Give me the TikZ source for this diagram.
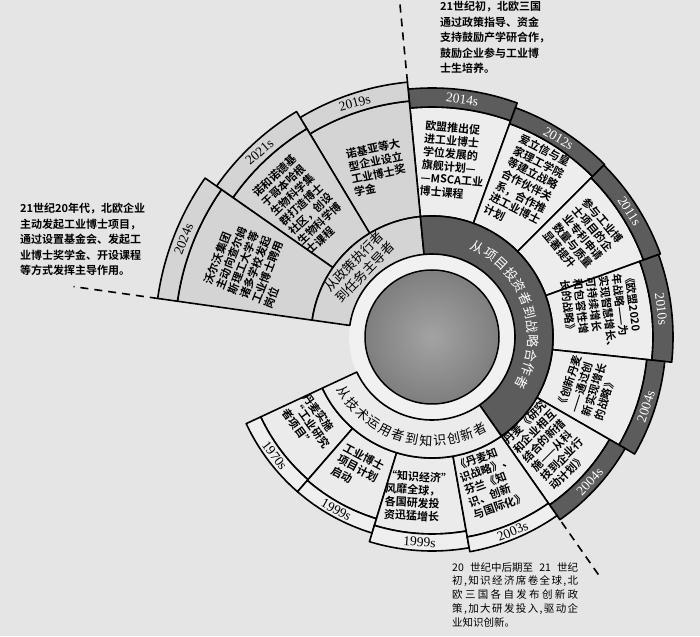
\documentclass[tikz,border=0pt]{standalone}
\usepackage{fontspec}
\setmainfont{Liberation Serif}
\newfontfamily\cjk{Noto Sans CJK SC}[BoldFont={Noto Sans CJK SC Bold}]
\definecolor{bgc}{HTML}{E5E5E5}
\definecolor{colL}{HTML}{D4D4D4}
\definecolor{colR}{HTML}{EDEDED}
\definecolor{colB}{HTML}{EBEBEB}
\definecolor{colBb}{HTML}{EFEFEF}
\definecolor{dark}{HTML}{5C5C5C}
\definecolor{ringw}{HTML}{F1F1F1}
\def\spr#1{\hbox to 126pt{\spa#1\relax}}
\def\spa#1#2{#1\ifx\relax#2\else\hfil\expandafter\spa\expandafter#2\fi}
\tikzset{
  secline/.style={draw=black, line width=1.6pt, line join=round},
  st/.style={font=\cjk\bfseries\fontsize{11}{13}\selectfont, align=left, inner sep=0pt},
  yr/.style={font=\fontsize{13.5}{13.5}\selectfont, inner sep=0pt},
  yrw/.style={yr, text=white},
  side/.style={font=\cjk\bfseries\fontsize{11}{15.5}\selectfont, align=left, inner sep=0pt, anchor=north west},
  sideb/.style={font=\cjk\fontsize{10.5}{13.8}\selectfont, align=left, inner sep=0pt, anchor=north west},
  midl/.style={font=\cjk\fontsize{13}{15.5}\selectfont, align=left, inner sep=0pt},
  arcw/.style={font=\cjk\fontsize{13}{13}\selectfont, inner sep=0pt, text=white},
  arcb/.style={font=\cjk\fontsize{13}{13}\selectfont, inner sep=0pt},
  dashln/.style={draw=black, line width=1.6pt, dash pattern=on 8pt off 6pt}
}
\begin{document}
\begin{tikzpicture}[x=1pt,y=1pt]
\useasboundingbox (-432,-299) rectangle (268,337);
\fill[bgc] (-432,-299) rectangle (268,337);
% white ring
\fill[ringw] (0,0) circle[radius=83];
% right group
\foreach \a/\b/\rb/\ro in {70/95.5/230/249, 45/70/227/244, 20/45/225/243, -6/20/221/241, -30/-6/216/234, -55/-30/205/223}{
  \draw[secline, fill=colR] (\a:121) arc[start angle=\a, end angle=\b, radius=121] -- (\b:\rb) arc[start angle=\b, end angle=\a, radius=\rb] -- cycle;
  \draw[secline, fill=dark] (\a:\rb) arc[start angle=\a, end angle=\b, radius=\rb] -- (\b:\ro) arc[start angle=\b, end angle=\a, radius=\ro] -- cycle;
}
% left group
\foreach \a/\b/\rb/\ro in {95.5/121/237/256, 121/145/243/263, 145/172/257/277}{
  \draw[secline, fill=colL] (\a:121) arc[start angle=\a, end angle=\b, radius=121] -- (\b:\rb) arc[start angle=\b, end angle=\a, radius=\rb] -- cycle;
  \draw[secline, fill=colL] (\a:\rb) arc[start angle=\a, end angle=\b, radius=\rb] -- (\b:\ro) arc[start angle=\b, end angle=\a, radius=\ro] -- cycle;
}
% bottom group
\foreach \a/\b/\rb/\ro in {205/229/189/205, 229/253/190/205, 253/280/197/214, 280/305/203/218}{
  \draw[secline, fill=colB] (\a:121) arc[start angle=\a, end angle=\b, radius=121] -- (\b:\rb) arc[start angle=\b, end angle=\a, radius=\rb] -- cycle;
  \draw[secline, fill=colBb] (\a:\rb) arc[start angle=\a, end angle=\b, radius=\rb] -- (\b:\ro) arc[start angle=\b, end angle=\a, radius=\ro] -- cycle;
}
% middle ring
\draw[secline, fill=colL] (95.5:83) arc[start angle=95.5, end angle=172, radius=83] -- (172:121) arc[start angle=172, end angle=95.5, radius=121] -- cycle;
\draw[secline, fill=dark] (-55:83) arc[start angle=-55, end angle=95.5, radius=83] -- (95.5:121) arc[start angle=95.5, end angle=-55, radius=121] -- cycle;
\draw[secline, fill=colB] (205:83) arc[start angle=205, end angle=305, radius=83] -- (305:121) arc[start angle=305, end angle=205, radius=121] -- cycle;
% disk
\draw[line width=1.5pt, inner color=gray!72, outer color=gray!88!black!90] (0,0) circle[radius=67];
% dashed extensions
\coordinate (dt1) at (95.5:256); \coordinate (dt2) at (95.5:338);
\coordinate (dl1) at (172:277); \coordinate (dl2) at (172:362);
\coordinate (dr1) at (-55:226); \coordinate (dr2) at (-55:292);
\draw[dashln] (dt1) -- (dt2);
\draw[dashln] (dl1) -- (dl2);
\draw[dashln] (dr1) -- (dr2);
% sector texts, left
\node[st, rotate=12] (n2019) at (108:178) {诺基亚等大\\型企业设立\\工业博士奖\\学金};
\node[st, rotate=43] (n2021) at (134.5:186) {诺和诺德基\\于哥本哈根\\生物科学集\\群打造博士\\社区，创设\\生物科学博\\士课程};
\node[st, rotate=68.5] (n2024) at (158.5:196) {沃尔沃集团\\主动向查尔姆\\斯理工大学等\\诸多学校发起\\工业博士聘用\\岗位};
% right
\node[st, rotate=-5] (n2014) at (83:178) {欧盟推出促\\进工业博士\\学位发展的\\旗舰计划—\\—MSCA工业\\博士课程};
\node[st, rotate=-27] (n2012) at (58:179) {爱立信与皇\\家理工学院\\等建立战略\\合作伙伴关\\系，合作推\\进工业博士\\计划};
\node[st, rotate=-50] (n2011) at (33.5:181) {参与工业博\\士项目的企\\业专利申请\\数量与质量\\显著提升};
\node[st, rotate=-83] (n2010) at (7.5:171) {《欧盟2020\\年战略——为\\实现智慧增长、\\可持续增长\\和包容性增\\长的战略》};
\node[st, rotate=72] (n2004a) at (-18:164) {《创新丹麦\\——通过创\\新实现增长\\的战略》};
\node[st, rotate=45] (n2004b) at (-43:159) {丹麦《研究\\和企业相互\\结合的新措\\施——从科\\技到企业行\\动计划》};
% bottom
\node[st, rotate=-54] (n1970) at (216:149) {丹麦实施\\“工业研究\\者项目”};
\node[st, rotate=-28] (n1999a) at (240.5:151) {工业博士\\项目计划\\启动};
\node[st, rotate=-3] (n1999b) at (265:160) {“知识经济”\\风靡全球，\\各国研发投\\资迅猛增长};
\node[st, rotate=20] (n2003) at (292:156) {《丹麦知\\识战略》、\\芬兰《知\\识、创新\\与国际化》};
% year labels
\node[yr, rotate=15] (y2019) at (108.25:246.5) {2019s};
\node[yr, rotate=41] (y2021) at (133:253) {2021s};
\node[yr, rotate=68.5] (y2024) at (158.5:267) {2024s};
\node[yrw, rotate=-7.25] (y2014) at (82.75:239.5) {2014s};
\node[yrw, rotate=-30] (y2012) at (57.5:235.5) {2012s};
\node[yrw, rotate=-57.5] (y2011) at (32.5:234) {2011s};
\node[yrw, rotate=-83] (y2010) at (7:231) {2010s};
\node[yrw, rotate=72] (y2004a) at (-18:225) {2004s};
\node[yrw, rotate=47.5] (y2004b) at (-42.5:214) {2004s};
\node[yr, rotate=-53] (y1970) at (217:197) {1970s};
\node[yr, rotate=-29] (y1999a) at (241:197.5) {1999s};
\node[yr, rotate=-3.5] (y1999b) at (266.5:205.5) {1999s};
\node[yr, rotate=22.5] (y2003) at (292.5:210.5) {2003s};
% middle labels
\node[midl, rotate=46] (mpol) at (136:101) {从政策执行者\\到任务主导者};
\foreach \ch [count=\i from 0] in {从,项,目,投,资,者,到,战,略,合,作,者}{
  \pgfmathsetmacro\ang{63-\i*90/11}
  \node[arcw, rotate=\ang-90] (d\i) at (\ang:101) {\ch};
}
\foreach \ch [count=\i from 0] in {从,技,术,运,用,者,到,知,识,创,新,者}{
  \pgfmathsetmacro\ang{212.5+\i*85/11}
  \node[arcb, rotate=\ang+90] (b\i) at (\ang:104) {\ch};
}
% side texts
\node[side] (ttop) at (8,336) {21世纪初，北欧三国\\通过政策指导、资金\\支持鼓励产学研合作，\\鼓励企业参与工业博\\士生培养。};
\node[side] (tleft) at (-412,134) {21世纪20年代，北欧企业\\主动发起工业博士项目，\\通过设置基金会、发起工\\业博士奖学金、开设课程\\等方式发挥主导作用。};
\node[sideb] (tbot) at (20,-225) {\makebox[126pt][s]{20 世纪中后期至 21 世纪}\\\spr{初,知识经济席卷全球,北}\\\spr{欧三国各自发布创新政}\\\spr{策,加大研发投入,驱动企}\\业知识创新。};
\end{tikzpicture}
\end{document}
